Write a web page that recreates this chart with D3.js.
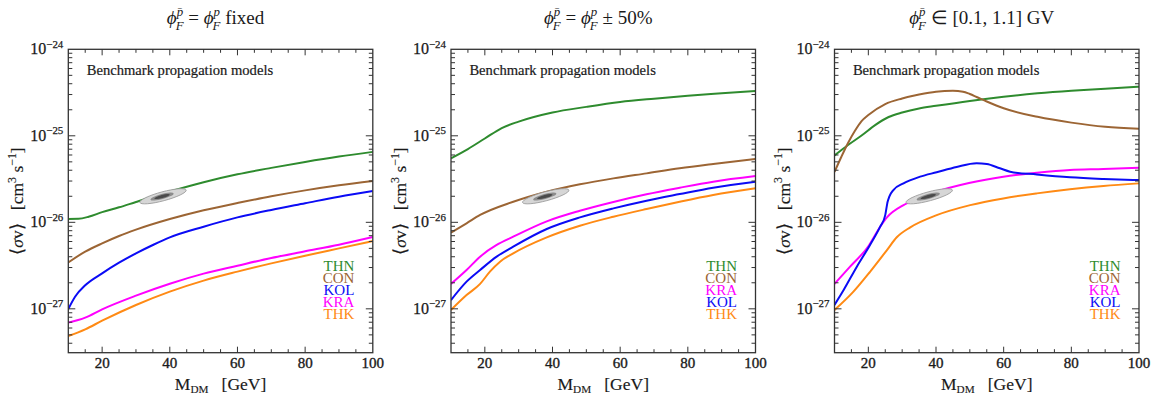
<!DOCTYPE html>
<html><head><meta charset="utf-8">
<script src="https://cdn.jsdelivr.net/npm/d3@7"></script>
<style>body{margin:0;background:#fff} svg{display:block}</style>
</head><body>
<svg id="c" width="1153" height="400"></svg>
<script>
// ---------- data ----------
const massTicks = [20, 40, 60, 80, 100];
const decadeTicks = [1e-27, 1e-26, 1e-25, 1e-24];
const legendP1 = ["THN", "CON", "KOL", "KRA", "THK"];
const legendP23 = ["THN", "CON", "KRA", "KOL", "THK"];
const colors = {THN: "#2e8b2e", CON: "#9c6534", KOL: "#0b0bf5", KRA: "#ff00ff", THK: "#ff8a14"};
const bestFit = [38, 2.0e-26];

// Panel 1 : phi fixed
const p1_THN_x = [10, 13, 16, 20, 25, 30, 40, 50, 60, 70, 80, 90, 100];
const p1_THN_y = [1.095e-26, 1.10e-26, 1.16e-26, 1.31e-26, 1.49e-26, 1.72e-26, 2.27e-26, 2.91e-26, 3.59e-26, 4.26e-26, 4.99e-26, 5.76e-26, 6.52e-26];
const p1_CON_x = [10, 15, 20, 25, 30, 40, 50, 60, 70, 80, 90, 100];
const p1_CON_y = [3.44e-27, 4.58e-27, 5.71e-27, 6.95e-27, 8.22e-27, 1.09e-26, 1.38e-26, 1.67e-26, 2.00e-26, 2.34e-26, 2.68e-26, 3.00e-26];
const p1_KOL_x = [10, 12, 15, 20, 25, 30, 35, 40, 50, 60, 70, 80, 90, 100];
const p1_KOL_y = [9.95e-28, 1.38e-27, 1.87e-27, 2.57e-27, 3.41e-27, 4.38e-27, 5.47e-27, 6.70e-27, 8.90e-27, 1.14e-26, 1.39e-26, 1.66e-26, 1.98e-26, 2.30e-26];
const p1_KRA_x = [10, 15, 20, 30, 40, 50, 60, 70, 80, 90, 100];
const p1_KRA_y = [6.92e-28, 7.90e-28, 9.86e-28, 1.42e-27, 1.95e-27, 2.55e-27, 3.15e-27, 3.87e-27, 4.62e-27, 5.51e-27, 6.76e-27];
const p1_THK_x = [10, 15, 20, 30, 40, 50, 60, 70, 80, 90, 100];
const p1_THK_y = [4.85e-28, 5.79e-28, 7.29e-28, 1.107e-27, 1.58e-27, 2.12e-27, 2.69e-27, 3.35e-27, 4.11e-27, 5.00e-27, 6.08e-27];

// Panel 2 : phi +-50%
const p2_THN_x = [10, 15, 20, 25, 30, 40, 50, 60, 70, 80, 90, 100];
const p2_THN_y = [5.50e-26, 7.03e-26, 9.31e-26, 1.23e-25, 1.46e-25, 1.86e-25, 2.16e-25, 2.46e-25, 2.69e-25, 2.91e-25, 3.10e-25, 3.30e-25];
const p2_CON_x = [10, 14.6, 18.6, 28.4, 38.3, 48.1, 58, 67.8, 77.6, 87.5, 100];
const p2_CON_y = [7.59e-27, 9.73e-27, 1.215e-26, 1.73e-26, 2.26e-26, 2.75e-26, 3.22e-26, 3.68e-26, 4.21e-26, 4.72e-26, 5.39e-26];
const p2_KRA_x = [10, 14.6, 18.6, 23.5, 28.4, 38.3, 48.1, 58, 67.8, 77.6, 87.5, 100];
const p2_KRA_y = [1.94e-27, 2.81e-27, 4.01e-27, 5.47e-27, 6.82e-27, 1.026e-26, 1.36e-26, 1.72e-26, 2.11e-26, 2.51e-26, 2.95e-26, 3.43e-26];
const p2_KOL_x = [10, 14.6, 18.6, 23.5, 28.4, 38.3, 48.1, 58, 67.8, 77.6, 87.5, 100];
const p2_KOL_y = [1.26e-27, 2.06e-27, 2.81e-27, 4.01e-27, 5.23e-27, 8.37e-27, 1.14e-26, 1.45e-26, 1.78e-26, 2.12e-26, 2.51e-26, 2.95e-26];
const p2_THK_x = [10, 14.6, 18.6, 21.5, 24.5, 28.4, 38.3, 48.1, 58, 67.8, 77.6, 87.5, 100];
const p2_THK_y = [9.69e-28, 1.44e-27, 1.94e-27, 2.69e-27, 3.51e-27, 4.38e-27, 6.70e-27, 9.14e-27, 1.16e-26, 1.425e-26, 1.73e-26, 2.07e-26, 2.47e-26];

// Panel 3 : phi in [0.1, 1.1] GV
const p3_THN_x = [10, 14, 18, 22, 26, 30, 35, 40, 50, 60, 70, 80, 90, 100];
const p3_THN_y = [5.92e-26, 7.83e-26, 1.007e-25, 1.33e-25, 1.65e-25, 1.86e-25, 2.07e-25, 2.22e-25, 2.53e-25, 2.83e-25, 3.10e-25, 3.32e-25, 3.50e-25, 3.70e-25];
const p3_CON_x = [10, 12, 14, 16, 18, 20, 25, 30, 35, 40, 45, 48, 50, 52, 55, 60, 70, 80, 90, 100];
const p3_CON_y = [3.82e-26, 5.69e-26, 8.26e-26, 1.136e-25, 1.48e-25, 1.74e-25, 2.33e-25, 2.70e-25, 3.00e-25, 3.24e-25, 3.32e-25, 3.24e-25, 3.04e-25, 2.81e-25, 2.49e-25, 2.08e-25, 1.66e-25, 1.42e-25, 1.27e-25, 1.21e-25];
const p3_KRA_x = [10, 14.6, 19.9, 23.5, 25.5, 30.4, 35.3, 40.2, 50.1, 59.9, 69.8, 79.6, 89.5, 100];
const p3_KRA_y = [1.94e-27, 3.07e-27, 5.22e-27, 8.90e-27, 1.14e-26, 1.58e-26, 1.89e-26, 2.26e-26, 2.87e-26, 3.37e-26, 3.74e-26, 4.03e-26, 4.13e-26, 4.28e-26];
const p3_KOL_x = [10, 12.7, 16.6, 20.5, 23.5, 25, 25.7, 26.2, 27.4, 30.4, 35.3, 40.2, 46.1, 52, 55, 58.9, 61.9, 69.8, 79.6, 89.5, 100];
const p3_KOL_y = [1.11e-27, 1.65e-27, 3.07e-27, 5.47e-27, 8.90e-27, 1.21e-26, 1.73e-26, 1.98e-26, 2.36e-26, 2.82e-26, 3.37e-26, 3.79e-26, 4.36e-26, 4.81e-26, 4.72e-26, 4.21e-26, 3.85e-26, 3.57e-26, 3.31e-26, 3.17e-26, 3.08e-26];
const p3_THK_x = [10, 15.6, 20.5, 25.5, 28.4, 32.4, 40.2, 50.1, 59.9, 69.8, 79.6, 89.5, 100];
const p3_THK_y = [9.69e-28, 1.58e-27, 2.68e-27, 4.78e-27, 6.71e-27, 8.75e-27, 1.21e-26, 1.58e-26, 1.89e-26, 2.16e-26, 2.41e-26, 2.63e-26, 2.82e-26];

// ---------- drawing ----------
const FONT = "'Liberation Serif','Times New Roman',Times,serif";
const INK = "#1a1a1a";
const svg = d3.select("#c");
const TOP = 49.3, BOTTOM = 352.7, W = 304.5;

function mathText(parent, parts, size, anchor, weight) {
  const g = parent.append("g");
  const t = g.append("text").attr("font-family", FONT).attr("font-size", size)
    .attr("fill", INK).attr("stroke", INK).attr("stroke-width", weight === undefined ? 0.25 : weight)
    .style("white-space", "pre");
  let cx = 0;
  for (const p of parts) {
    if (p.t) {
      const s = t.append("tspan").attr("x", cx).attr("y", 0).text(p.t);
      if (p.it) s.attr("font-style", "italic");
      cx += s.node().getComputedTextLength();
    }
    let w = 0;
    if (p.sup) {
      const s = t.append("tspan").attr("x", cx + (p.supdx || 0)).attr("y", -size * 0.42)
        .attr("font-size", size * 0.68).text(p.sup);
      if (p.supIt) s.attr("font-style", "italic");
      w = Math.max(w, s.node().getComputedTextLength() + (p.supdx || 0));
    }
    if (p.sub) {
      const s = t.append("tspan").attr("x", cx + (p.subdx || 0)).attr("y", size * (p.subY || 0.3))
        .attr("font-size", size * (p.subSize || 0.68)).text(p.sub);
      if (p.subIt) s.attr("font-style", "italic");
      w = Math.max(w, s.node().getComputedTextLength() + (p.subdx || 0));
    }
    cx += w;
  }
  const off = anchor === "middle" ? -cx / 2 : anchor === "end" ? -cx : 0;
  t.attr("transform", `translate(${off},0)`);
  return g;
}

const phiBar = {t: "ϕ", it: true, sup: "p̄", supIt: true, sub: "F", subIt: true, subdx: -1};
const phiP = {t: "ϕ", it: true, sup: "p", supIt: true, sub: "F", subIt: true, subdx: -1};
const titles = [
  [phiBar, {t: " = "}, phiP, {t: " fixed"}],
  [phiBar, {t: " = "}, phiP, {t: " ± 50%"}],
  [phiBar, {t: " ∈ [0.1, 1.1] GV"}]
];

const panels = [
  {left: 68.3, legend: legendP1, title: titles[0],
   series: {THN: [p1_THN_x, p1_THN_y], CON: [p1_CON_x, p1_CON_y], KOL: [p1_KOL_x, p1_KOL_y], KRA: [p1_KRA_x, p1_KRA_y], THK: [p1_THK_x, p1_THK_y]}},
  {left: 451, legend: legendP23, title: titles[1],
   series: {THN: [p2_THN_x, p2_THN_y], CON: [p2_CON_x, p2_CON_y], KRA: [p2_KRA_x, p2_KRA_y], KOL: [p2_KOL_x, p2_KOL_y], THK: [p2_THK_x, p2_THK_y]}},
  {left: 834.5, legend: legendP23, title: titles[2],
   series: {THN: [p3_THN_x, p3_THN_y], CON: [p3_CON_x, p3_CON_y], KRA: [p3_KRA_x, p3_KRA_y], KOL: [p3_KOL_x, p3_KOL_y], THK: [p3_THK_x, p3_THK_y]}}
];

const y = d3.scaleLog().domain([3.11e-28, 1e-24]).range([BOTTOM, TOP]);

panels.forEach((P, i) => {
  const L = P.left, R = L + W;
  const x = d3.scaleLinear().domain([10, 100]).range([L, R]);
  const g = svg.append("g");
  const cid = "clip" + i;
  svg.append("clipPath").attr("id", cid).append("rect")
    .attr("x", L).attr("y", TOP).attr("width", W).attr("height", BOTTOM - TOP);

  // curves
  const line = d3.line().x(d => x(d[0])).y(d => y(d[1])).curve(d3.curveMonotoneX);
  const cg = g.append("g").attr("clip-path", `url(#${cid})`);
  Object.keys(P.series).forEach(k => {
    const [xs, ys] = P.series[k];
    cg.append("path").datum(xs.map((v, j) => [v, ys[j]]))
      .attr("d", line).attr("fill", "none").attr("stroke", colors[k])
      .attr("stroke-width", 2).attr("stroke-linejoin", "round");
  });

  // best-fit ellipses
  const eg = g.append("g").attr("transform", `translate(${x(bestFit[0])},${y(bestFit[1])}) rotate(-15)`);
  eg.append("ellipse").attr("rx", 24).attr("ry", 4.5).attr("fill", "#d6d6d6").attr("stroke", "#9a9a9a").attr("stroke-width", 0.8);
  eg.append("ellipse").attr("cx", -1).attr("rx", 12).attr("ry", 2.6).attr("fill", "#8c8c8c");
  eg.append("ellipse").attr("cx", -1).attr("rx", 8).attr("ry", 1.6).attr("fill", "#4a4a4a");

  // frame
  g.append("rect").attr("x", L).attr("y", TOP).attr("width", W).attr("height", BOTTOM - TOP)
    .attr("fill", "none").attr("stroke", "#333").attr("stroke-width", 1.3);

  // x ticks (bottom & top)
  const xt = d3.range(15, 100, 5);
  xt.forEach(v => {
    const len = massTicks.includes(v) ? 6 : 3.5;
    g.append("line").attr("x1", x(v)).attr("x2", x(v)).attr("y1", BOTTOM).attr("y2", BOTTOM - len).attr("stroke", "#333").attr("stroke-width", 1);
    g.append("line").attr("x1", x(v)).attr("x2", x(v)).attr("y1", TOP).attr("y2", TOP + len).attr("stroke", "#333").attr("stroke-width", 1);
  });
  massTicks.forEach(v => {
    g.append("text").attr("x", x(v)).attr("y", 368).attr("text-anchor", "middle")
      .attr("font-family", FONT).attr("font-size", 15).attr("fill", INK)
      .attr("stroke", INK).attr("stroke-width", 0.35).text(v);
  });

  // y ticks (left & right)
  const yt = [];
  for (let e = -28; e <= -25; e++) for (let m = 1; m <= 9; m++) {
    const v = m * Math.pow(10, e);
    if (v >= 3.11e-28 && v < 1e-24) yt.push([v, m === 1]);
  }
  yt.forEach(([v, major]) => {
    const len = major ? 7 : 4;
    g.append("line").attr("x1", L).attr("x2", L + len).attr("y1", y(v)).attr("y2", y(v)).attr("stroke", "#333").attr("stroke-width", 1);
    g.append("line").attr("x1", R).attr("x2", R - len).attr("y1", y(v)).attr("y2", y(v)).attr("stroke", "#333").attr("stroke-width", 1);
  });
  decadeTicks.forEach(v => {
    const e = Math.round(Math.log10(v));
    mathText(g, [{t: "10", sup: "−" + Math.abs(e)}], 16, "end")
      .attr("transform", `translate(${L - 5},${y(v) + 5})`);
  });

  // axis titles
  mathText(g, [{t: "M", sub: "DM", subY: 0.18, subSize: 0.64}, {t: "   [GeV]"}], 17.5, "middle", 0.15)
    .attr("transform", `translate(${L + W / 2},${390})`);
  mathText(g, [{t: "⟨"}, {t: "σ", it: true}, {t: "v⟩   [cm", sup: "3"}, {t: " s", sup: "−1"}, {t: "]"}], 17.5, "middle", 0.15)
    .attr("transform", `translate(${L - 45},${201}) rotate(-90)`);

  // title
  mathText(g, P.title, 19, "middle", 0).attr("transform", `translate(${L + W / 2 - 5},${24})`);

  // annotation
  g.append("text").attr("x", L + 18.4).attr("y", 75).attr("font-family", FONT)
    .attr("font-size", 14.6).attr("fill", INK).attr("stroke", INK).attr("stroke-width", 0.2)
    .text("Benchmark propagation models");

  // legend
  P.legend.forEach((k, j) => {
    g.append("text").attr("x", R - 18.5).attr("y", 270.5 + j * 12.2).attr("text-anchor", "end")
      .attr("font-family", FONT).attr("font-size", 15).attr("fill", colors[k]).text(k);
  });
});
</script>
</body></html>
